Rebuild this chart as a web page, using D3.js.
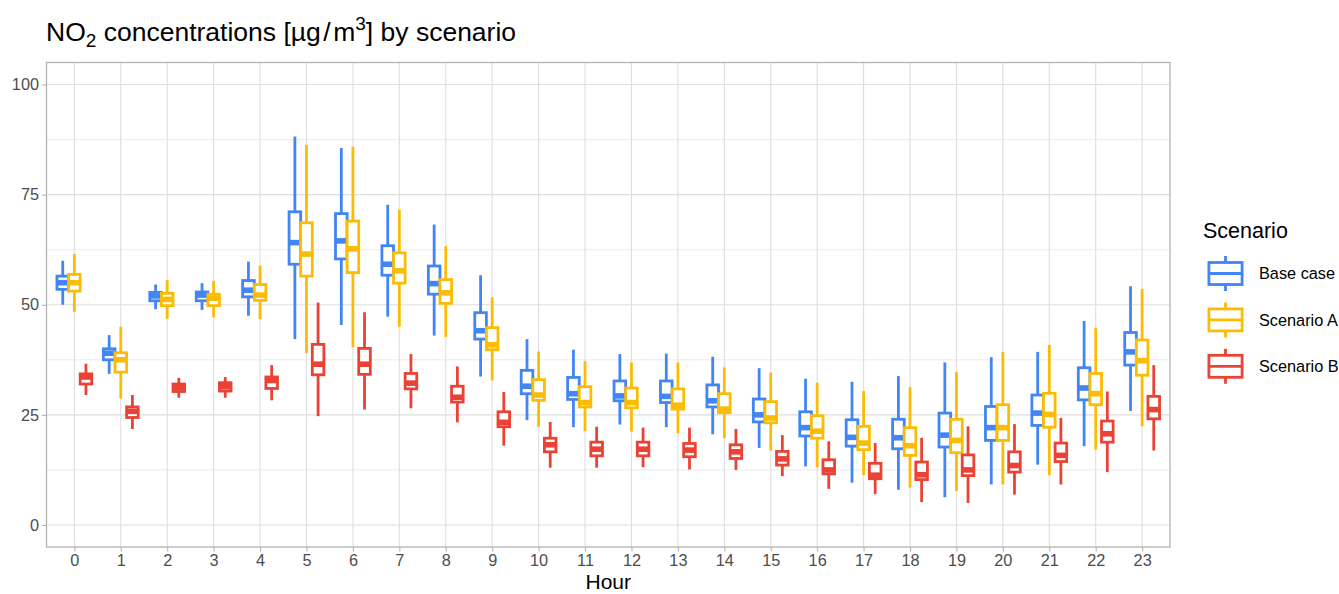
<!DOCTYPE html>
<html>
<head>
<meta charset="utf-8">
<script src="https://cdn.jsdelivr.net/npm/d3@7"></script>
<style>
  body { margin: 0; background: #fff; }
  svg { font-family: "Liberation Sans", Arial, sans-serif; }
</style>
</head>
<body>
<div id="chart"></div>
<script>
// hours on the x axis
var hours = d3.range(0, 24);
var scenarios = ["Base case", "Scenario A", "Scenario B"];
var colors = ["#4285F4", "#FBBC05", "#EA4335"];
var yTicks = [0, 25, 50, 75, 100];

// [lower whisker, Q1, median, Q3, upper whisker] per hour
var baseCase = [
  [50.0, 53.5, 55.0, 56.5, 60.0], [34.3, 37.5, 39.0, 40.0, 43.1],
  [49.0, 50.9, 52.0, 52.8, 54.6], [48.8, 50.9, 52.2, 52.9, 54.9],
  [47.5, 51.8, 53.3, 55.5, 59.8], [42.2, 59.2, 64.1, 71.1, 88.2],
  [45.4, 60.4, 64.5, 70.7, 85.6], [47.3, 56.7, 59.2, 63.4, 72.7],
  [43.0, 52.4, 54.8, 58.8, 68.2], [33.7, 42.2, 44.1, 48.2, 56.7],
  [23.8, 29.8, 31.5, 35.1, 42.2], [22.2, 28.5, 29.8, 33.5, 39.8],
  [22.8, 28.2, 29.3, 32.7, 38.8], [22.2, 27.8, 29.2, 32.7, 38.9],
  [20.6, 26.8, 28.2, 31.8, 38.2], [17.5, 23.4, 25.0, 28.6, 35.6],
  [13.3, 20.2, 22.1, 25.7, 33.2], [9.6, 17.9, 19.9, 23.9, 32.5],
  [8.0, 17.3, 19.8, 24.0, 33.8], [6.3, 17.7, 20.4, 25.4, 36.9],
  [9.2, 19.2, 22.1, 26.9, 38.1], [13.7, 22.6, 25.4, 29.5, 39.3],
  [17.9, 28.4, 31.1, 35.7, 46.3], [25.9, 36.3, 39.3, 43.7, 54.2]
];
var scenarioA = [
  [48.4, 53.1, 55.0, 56.9, 61.5], [28.7, 34.7, 37.5, 39.1, 45.0],
  [46.8, 49.8, 51.2, 52.6, 55.6], [47.1, 49.8, 51.5, 52.4, 55.4],
  [46.7, 51.0, 52.2, 54.6, 58.9], [39.0, 56.5, 61.5, 68.6, 86.3],
  [40.3, 57.3, 62.7, 69.0, 85.9], [45.0, 54.9, 57.7, 61.8, 71.6],
  [42.7, 50.3, 52.7, 55.7, 63.3], [32.8, 39.8, 40.9, 44.8, 51.7],
  [22.3, 28.3, 29.5, 33.0, 39.4], [21.3, 26.8, 27.8, 31.4, 37.2],
  [21.2, 26.6, 27.8, 31.1, 36.9], [20.8, 26.3, 27.2, 30.9, 36.9],
  [19.7, 25.5, 26.3, 29.8, 35.8], [16.9, 23.2, 24.3, 28.0, 34.6],
  [13.1, 19.7, 21.3, 24.8, 32.3], [11.3, 17.1, 18.6, 22.4, 30.4],
  [8.5, 15.8, 18.0, 22.1, 31.3], [7.7, 16.4, 19.2, 24.0, 34.7],
  [9.2, 19.2, 22.1, 27.3, 39.3], [11.3, 22.2, 25.1, 29.9, 40.9],
  [17.1, 27.3, 29.8, 34.4, 44.8], [22.4, 34.0, 37.3, 42.0, 53.6]
];
var scenarioB = [
  [29.5, 32.0, 33.6, 34.3, 36.6], [21.8, 24.4, 25.8, 26.8, 29.5],
  [28.9, 30.3, 31.2, 32.0, 33.4], [28.9, 30.4, 31.4, 32.3, 33.6],
  [28.3, 31.0, 32.8, 33.6, 36.3], [24.7, 34.1, 36.5, 41.0, 50.5],
  [26.2, 34.2, 36.5, 40.1, 48.3], [26.5, 30.9, 32.2, 34.4, 38.8],
  [23.3, 27.9, 29.0, 31.5, 36.0], [18.0, 22.3, 23.3, 25.7, 30.2],
  [13.0, 16.6, 18.2, 19.7, 23.4], [13.0, 15.7, 17.2, 18.8, 22.3],
  [13.1, 15.7, 17.2, 18.8, 22.1], [12.6, 15.5, 17.0, 18.5, 22.1],
  [12.5, 15.1, 16.6, 18.2, 21.8], [11.1, 13.6, 15.0, 16.7, 20.4],
  [8.2, 11.6, 12.5, 14.8, 19.0], [7.0, 10.5, 11.3, 14.0, 18.6],
  [5.2, 10.3, 11.4, 14.3, 19.8], [5.0, 11.2, 12.5, 15.9, 22.4],
  [6.9, 12.0, 13.5, 16.6, 22.9], [9.2, 14.4, 15.8, 18.6, 24.3],
  [12.0, 18.8, 20.7, 23.6, 30.3], [16.9, 24.1, 26.2, 29.2, 36.3]
];

function init() {
    var w = 1339, h = 594;
    var panel = { left: 46.5, right: 1170, top: 62.5, bottom: 547 };
    var seriesData = [baseCase, scenarioA, scenarioB];

    var svg = d3.select("#chart").append("svg")
        .attr("width", w)
        .attr("height", h);

    var x = d3.scaleLinear().domain([-0.6, 23.6]).range([panel.left, panel.right]);
    var y = d3.scaleLinear().domain([-5, 105]).range([panel.bottom, panel.top]);

    // minor + major grid
    var grid = svg.append("g");
    grid.selectAll(".minor")
        .data([12.5, 37.5, 62.5, 87.5])
        .enter().append("line")
        .attr("x1", panel.left).attr("x2", panel.right)
        .attr("y1", function(d) { return y(d); })
        .attr("y2", function(d) { return y(d); })
        .attr("stroke", "#e3e3e3").attr("stroke-width", 0.7);
    grid.selectAll(".majory")
        .data(yTicks)
        .enter().append("line")
        .attr("x1", panel.left).attr("x2", panel.right)
        .attr("y1", function(d) { return y(d); })
        .attr("y2", function(d) { return y(d); })
        .attr("stroke", "#dedede").attr("stroke-width", 1.1);
    grid.selectAll(".majorx")
        .data(hours)
        .enter().append("line")
        .attr("y1", panel.top).attr("y2", panel.bottom)
        .attr("x1", function(d) { return x(d); })
        .attr("x2", function(d) { return x(d); })
        .attr("stroke", "#dedede").attr("stroke-width", 1.1);

    // boxes, dodged by scenario
    var dodge = 0.25;
    var boxW = x(dodge) - x(0);
    var lw = 2.8;
    var items = [];
    hours.forEach(function(hr, i) {
        seriesData.forEach(function(s, k) {
            items.push({ hour: hr, k: k, v: s[i] });
        });
    });

    var boxes = svg.append("g").selectAll("g")
        .data(items)
        .enter().append("g")
        .attr("stroke", function(d) { return colors[d.k]; });

    boxes.append("line")
        .attr("x1", function(d) { return x(d.hour + (d.k - 1) * dodge); })
        .attr("x2", function(d) { return x(d.hour + (d.k - 1) * dodge); })
        .attr("y1", function(d) { return y(d.v[4]); })
        .attr("y2", function(d) { return y(d.v[3]); })
        .attr("stroke-width", lw);
    boxes.append("line")
        .attr("x1", function(d) { return x(d.hour + (d.k - 1) * dodge); })
        .attr("x2", function(d) { return x(d.hour + (d.k - 1) * dodge); })
        .attr("y1", function(d) { return y(d.v[1]); })
        .attr("y2", function(d) { return y(d.v[0]); })
        .attr("stroke-width", lw);
    boxes.append("rect")
        .attr("x", function(d) { return x(d.hour + (d.k - 1) * dodge) - boxW / 2; })
        .attr("width", boxW)
        .attr("y", function(d) { return y(d.v[3]); })
        .attr("height", function(d) { return y(d.v[1]) - y(d.v[3]); })
        .attr("fill", "#fff")
        .attr("stroke-width", lw);
    boxes.append("line")
        .attr("x1", function(d) { return x(d.hour + (d.k - 1) * dodge) - boxW / 2; })
        .attr("x2", function(d) { return x(d.hour + (d.k - 1) * dodge) + boxW / 2; })
        .attr("y1", function(d) { return y(d.v[2]); })
        .attr("y2", function(d) { return y(d.v[2]); })
        .attr("stroke-width", lw * 2);

    // panel border
    svg.append("rect")
        .attr("x", panel.left).attr("y", panel.top)
        .attr("width", panel.right - panel.left)
        .attr("height", panel.bottom - panel.top)
        .attr("fill", "none")
        .attr("stroke", "#b3b3b3").attr("stroke-width", 1.3);

    // axes
    var xAxis = svg.append("g")
        .attr("transform", "translate(0," + panel.bottom + ")")
        .call(d3.axisBottom(x).tickValues(hours).tickSize(4.5).tickPadding(3));
    var yAxis = svg.append("g")
        .attr("transform", "translate(" + panel.left + ",0)")
        .call(d3.axisLeft(y).tickValues(yTicks).tickSize(4.5).tickPadding(3));
    [xAxis, yAxis].forEach(function(a) {
        a.select(".domain").remove();
        a.selectAll(".tick line").attr("stroke", "#b3b3b3").attr("stroke-width", 1.1);
        a.selectAll(".tick text")
            .attr("fill", "#4d4d4d")
            .style("font-size", "16.3px")
            .style("font-family", "'Liberation Sans', Arial, sans-serif");
    });

    svg.append("text")
        .attr("x", (panel.left + panel.right) / 2)
        .attr("y", 589)
        .attr("text-anchor", "middle")
        .style("font-size", "21px")
        .text("Hour");

    // title with sub/superscripts
    var title = svg.append("text")
        .attr("x", 46)
        .attr("y", 41)
        .style("font-size", "26.5px");
    title.append("tspan").text("NO");
    title.append("tspan").attr("dy", 5.5).style("font-size", "19px").text("2");
    title.append("tspan").attr("dy", -5.5).text(" concentrations [µg");
    title.append("tspan").attr("dx", 2.5).text("/");
    title.append("tspan").attr("dx", 2.5).text("m");
    title.append("tspan").attr("dy", -11).style("font-size", "19px").text("3");
    title.append("tspan").attr("dy", 11).text("] by scenario");

    // legend
    var legend = svg.append("g");
    legend.append("text")
        .attr("x", 1203).attr("y", 238)
        .style("font-size", "21.5px")
        .text("Scenario");
    var keys = legend.selectAll(".key")
        .data(scenarios)
        .enter().append("g")
        .attr("transform", function(d, i) { return "translate(1225.5," + (273.5 + i * 46.4) + ")"; });
    keys.append("line")
        .attr("x1", 0).attr("x2", 0).attr("y1", -17.5).attr("y2", 17.5)
        .attr("stroke", function(d, i) { return colors[i]; })
        .attr("stroke-width", lw);
    keys.append("rect")
        .attr("x", -16.6).attr("width", 33.2)
        .attr("y", -11).attr("height", 22)
        .attr("fill", "#fff")
        .attr("stroke", function(d, i) { return colors[i]; })
        .attr("stroke-width", lw);
    keys.append("line")
        .attr("x1", -16.6).attr("x2", 16.6).attr("y1", 0).attr("y2", 0)
        .attr("stroke", function(d, i) { return colors[i]; })
        .attr("stroke-width", lw);
    keys.append("text")
        .attr("x", 33.5).attr("y", 5.8)
        .style("font-size", "16.3px")
        .text(function(d) { return d; });
}

window.onload = init;
</script>
</body>
</html>
